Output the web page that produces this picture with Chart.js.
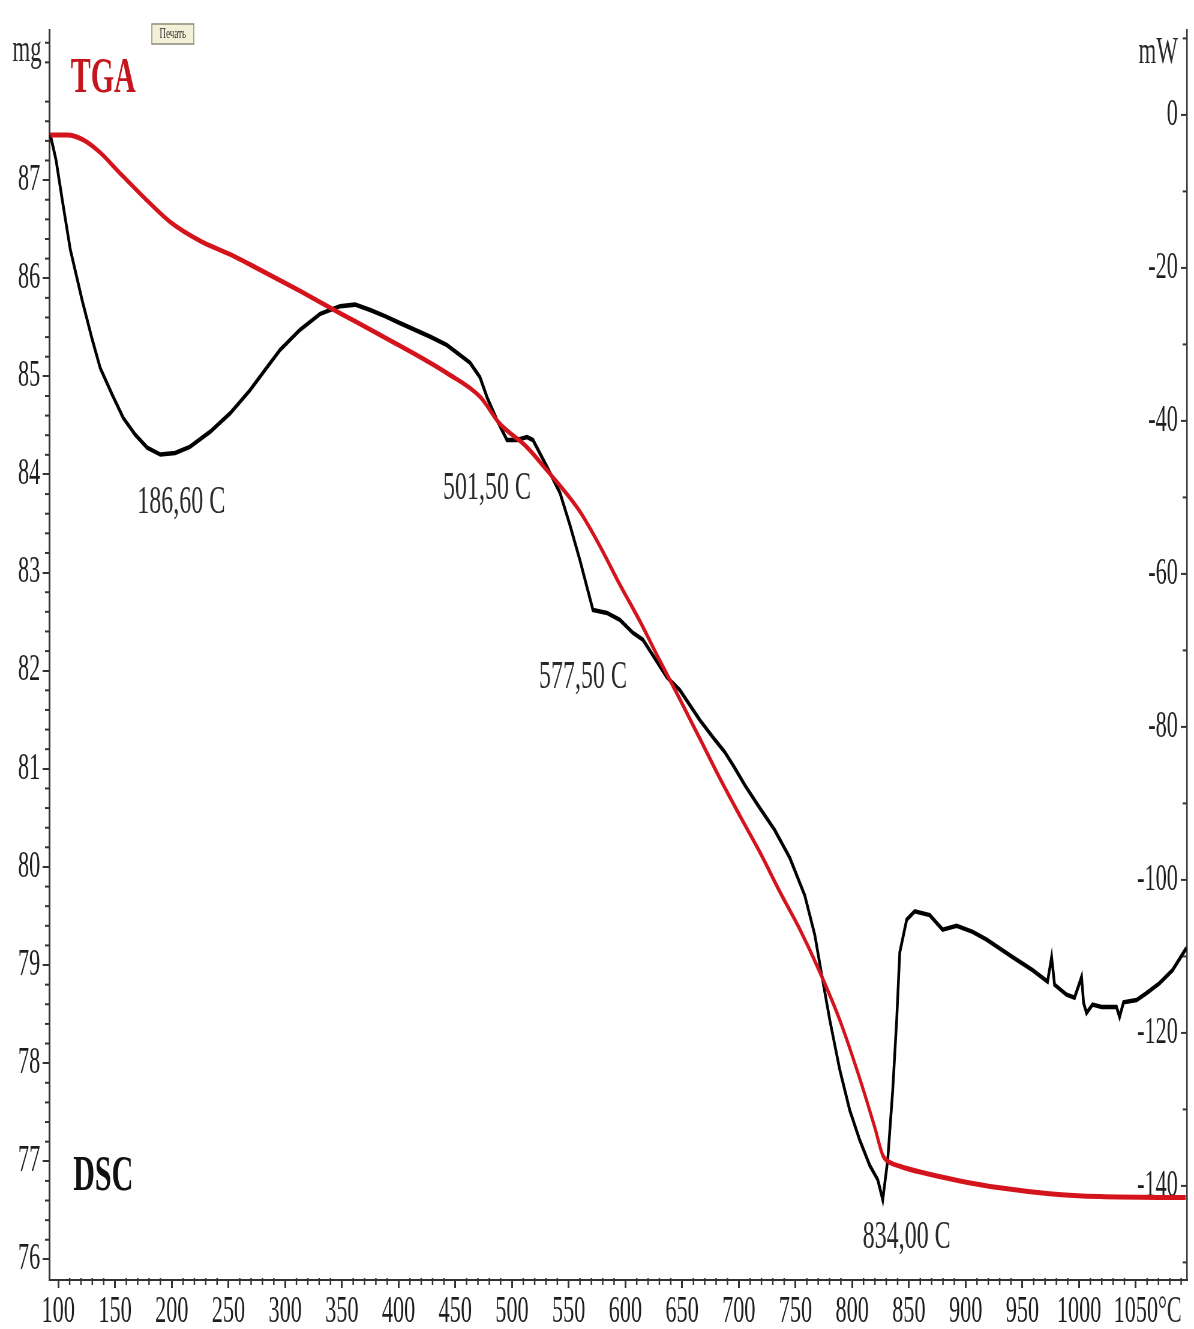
<!DOCTYPE html>
<html>
<head>
<meta charset="utf-8">
<script src="https://cdn.jsdelivr.net/npm/chart.js@4.4.1/dist/chart.umd.min.js"></script>
<style>
  html, body { margin: 0; padding: 0; background: #fff; overflow: hidden; }
  /* the original print is squeezed sideways, so the chart is drawn wide and compressed */
  #wrap { width: 1990px; height: 1329px; transform: scaleX(0.6); transform-origin: 0 0; }
</style>
</head>
<body>
<div id="wrap"><canvas id="tg" width="1990" height="1329" style="width:1990px;height:1329px"></canvas></div>
<script>
// TGA: temperature (°C) and mass (mg)
const tempTGA = [93, 108, 122, 137, 152, 175, 199, 225, 252, 269, 313, 349, 384, 443, 472,
  489, 513, 531, 560, 578, 595, 613, 630, 648, 666, 683, 701, 719, 736, 754, 771, 789, 807,
  820, 827, 833, 842, 860, 895, 930, 974, 1018, 1094];
const massTGA = [87.46, 87.46, 87.41, 87.28, 87.10, 86.83, 86.57, 86.38, 86.24, 86.14, 85.87,
  85.64, 85.42, 85.03, 84.79, 84.52, 84.28, 84.04, 83.62, 83.26, 82.88, 82.50, 82.11, 81.71,
  81.30, 80.91, 80.52, 80.14, 79.75, 79.36, 78.94, 78.44, 77.83, 77.34, 77.06, 76.99, 76.95,
  76.89, 76.80, 76.73, 76.67, 76.64, 76.63];

// DSC: temperature (°C) and heat flow (mW)
const tempDSC = [93, 98, 103.5, 110.6, 121, 130, 137, 147.6, 157.3, 167.8, 178.4, 190, 203, 216,
  234, 251.5, 269, 282.4, 295.6, 313, 331, 348.5, 361.7, 375, 388, 401, 428, 442.7, 463, 471.8,
  478, 486.8, 495.6, 504.4, 513.2, 518.5, 530.8, 542.3, 551.1, 559.9, 571.4, 583.7, 595.1, 606.6,
  615.4, 636.6, 648, 665.6, 679, 687.7, 696.5, 705.3, 718.5, 731.7, 744.9, 758.1, 767, 773.1,
  780.2, 789, 797.8, 806.6, 815.4, 822.5, 826.9, 831.3, 835.7, 839.2, 841.9, 848, 855.1, 868.3,
  879.7, 892.1, 906.2, 918.5, 941.4, 959, 972.2, 975.8, 978.4, 989, 996, 1002.2, 1004, 1006.6,
  1011.9, 1019.8, 1033, 1035.7, 1039.2, 1050.7, 1059.5, 1070.9, 1082.4, 1094.7];
const heatDSC = [-2.6, -5.9, -11.1, -17.6, -24.2, -29.4, -33.1, -36.6, -39.6, -41.8, -43.5, -44.4,
  -44.2, -43.4, -41.4, -39.0, -36.0, -33.3, -30.7, -28.1, -26.0, -25.0, -24.8, -25.5, -26.3, -27.2,
  -29.0, -30.1, -32.4, -34.3, -36.9, -39.9, -42.5, -42.5, -42.1, -42.5, -46.0, -49.4, -53.6, -58.2,
  -64.7, -65.1, -66.0, -67.7, -68.6, -73.5, -75.2, -79.1, -81.7, -83.3, -85.4, -87.6, -90.6, -93.5,
  -97.1, -102.0, -107.2, -112.4, -118.3, -124.8, -130.1, -134.0, -137.3, -139.2, -141.8, -136.6,
  -127.5, -118.3, -109.5, -105.2, -104.1, -104.6, -106.5, -106.0, -106.8, -107.8, -110.1, -111.8,
  -113.3, -110.1, -113.7, -115.0, -115.4, -112.7, -116.1, -117.4, -116.3, -116.6, -116.6, -117.9,
  -116.0, -115.7, -114.8, -113.5, -111.8, -108.9];

// tick labels
const tempTicks = [100, 150, 200, 250, 300, 350, 400, 450, 500, 550, 600, 650, 700, 750, 800, 850, 900, 950, 1000, 1050];
const massTicks = [76, 77, 78, 79, 80, 81, 82, 83, 84, 85, 86, 87];
const heatTicks = [-140, -120, -100, -80, -60, -40, -20, 0];

// peak labels
const peakLabels = ['186,60 C', '501,50 C', '577,50 C', '834,00 C'];
const peakTemps = [208.4, 478, 562.6, 848];
const peakHeats = [-50.7, -48.8, -73.5, -146.8];

const serif = '"Liberation Serif", "Times New Roman", serif';
const axisColor = '#333';

const extras = {
  id: 'extras',
  afterDraw(chart) {
    const { ctx, chartArea: a } = chart;
    const { x, yL, yR } = chart.scales;
    ctx.save();
    ctx.strokeStyle = axisColor;

    // minor ticks on temperature axis
    ctx.lineWidth = 2.5;
    for (let t = 100; t <= 1090; t += 10) {
      if (t % 50 === 0) continue;
      const px = x.getPixelForValue(t);
      ctx.beginPath(); ctx.moveTo(px, a.bottom - 2); ctx.lineTo(px, a.bottom + 5); ctx.stroke();
    }
    // minor ticks on mass axis
    ctx.lineWidth = 2;
    for (let k = 380; k <= 442; k++) {
      if (k % 5 === 0) continue;
      const py = yL.getPixelForValue(k / 5);
      ctx.beginPath(); ctx.moveTo(a.left, py); ctx.lineTo(a.left - 7, py); ctx.stroke();
    }
    // ticks on mW axis, pointing inwards
    for (let v = -150; v <= 10; v += 10) {
      const py = yR.getPixelForValue(v);
      const len = v % 20 === 0 ? 10 : 7;
      ctx.beginPath(); ctx.moveTo(a.right, py); ctx.lineTo(a.right - len, py); ctx.stroke();
    }

    ctx.textAlign = 'center';
    ctx.textBaseline = 'middle';

    // peak temperatures
    ctx.fillStyle = '#2a2a2a';
    ctx.font = `40px ${serif}`;
    peakLabels.forEach((txt, i) => {
      ctx.fillText(txt, x.getPixelForValue(peakTemps[i]), yR.getPixelForValue(peakHeats[i]));
    });

    // curve names
    ctx.font = `bold 50px ${serif}`;
    ctx.fillStyle = '#c4161c';
    ctx.fillText('TGA', x.getPixelForValue(139.6), yR.getPixelForValue(4.7));
    ctx.fillStyle = '#111';
    ctx.fillText('DSC', x.getPixelForValue(139.6), yR.getPixelForValue(-138.8));

    // units
    ctx.font = `38px ${serif}`;
    ctx.fillStyle = '#2a2a2a';
    ctx.textBaseline = 'alphabetic';
    ctx.fillText('mg', 45, 61);
    ctx.textAlign = 'right';
    ctx.fillText('mW', 1963, 63);

    // °C after last temperature label
    ctx.font = `37px ${serif}`;
    ctx.textAlign = 'left';
    ctx.textBaseline = 'middle';
    const w = ctx.measureText('1050').width;
    ctx.fillText('°C', x.getPixelForValue(1050) + w / 2, a.bottom + 32);

    // print button
    ctx.fillStyle = '#f4f0d8';
    ctx.fillRect(253, 24, 70, 20);
    ctx.strokeStyle = '#8a8a7a';
    ctx.lineWidth = 1.5;
    ctx.strokeRect(253, 24, 70, 20);
    ctx.fillStyle = '#333';
    ctx.font = `15px ${serif}`;
    ctx.textAlign = 'center';
    ctx.fillText('Печать', 288, 34.5);
    ctx.restore();
  }
};

const tickFont = { family: serif, size: 37 };

new Chart(document.getElementById('tg'), {
  type: 'line',
  data: {
    datasets: [
      {
        label: 'TGA',
        data: tempTGA.map((t, i) => ({ x: t, y: massTGA[i] })),
        yAxisID: 'yL',
        borderColor: '#d4141c',
        borderWidth: 5,
        pointRadius: 0,
        cubicInterpolationMode: 'monotone'
      },
      {
        label: 'DSC',
        data: tempDSC.map((t, i) => ({ x: t, y: heatDSC[i] })),
        yAxisID: 'yR',
        borderColor: '#000',
        borderWidth: 4.5,
        pointRadius: 0,
        tension: 0
      }
    ]
  },
  options: {
    responsive: false,
    animation: false,
    layout: { padding: { top: 30 } },
    plugins: { legend: { display: false }, tooltip: { enabled: false } },
    scales: {
      x: {
        type: 'linear',
        min: 92, max: 1095,
        afterBuildTicks: s => { s.ticks = tempTicks.map(v => ({ value: v })); },
        afterFit: s => { s.height = 49; },
        grid: { drawOnChartArea: false, drawTicks: true, tickLength: 8, color: axisColor, lineWidth: 3 },
        border: { display: true, color: axisColor, width: 2 },
        ticks: { font: tickFont, color: '#1e1e1e', padding: 2, maxRotation: 0, autoSkip: false,
          callback: v => String(v) }
      },
      yL: {
        type: 'linear',
        position: 'left',
        min: 75.79, max: 88.53,
        afterBuildTicks: s => { s.ticks = massTicks.map(v => ({ value: v })); },
        afterFit: s => { s.width = 82; },
        grid: { drawOnChartArea: false, drawTicks: true, tickLength: 11, color: axisColor, lineWidth: 2 },
        border: { display: true, color: axisColor, width: 3 },
        ticks: { font: tickFont, color: '#1e1e1e', padding: 4, callback: v => String(v) }
      },
      yR: {
        type: 'linear',
        position: 'right',
        min: -152.3, max: 11.1,
        afterBuildTicks: s => { s.ticks = heatTicks.map(v => ({ value: v })); },
        afterFit: s => { s.width = 12; },
        grid: { drawOnChartArea: false, drawTicks: false },
        border: { display: true, color: axisColor, width: 2.5 },
        ticks: { font: tickFont, color: '#1e1e1e', mirror: true, padding: -15,
          callback: v => String(v) }
      }
    }
  },
  plugins: [extras]
});
</script>
</body>
</html>
